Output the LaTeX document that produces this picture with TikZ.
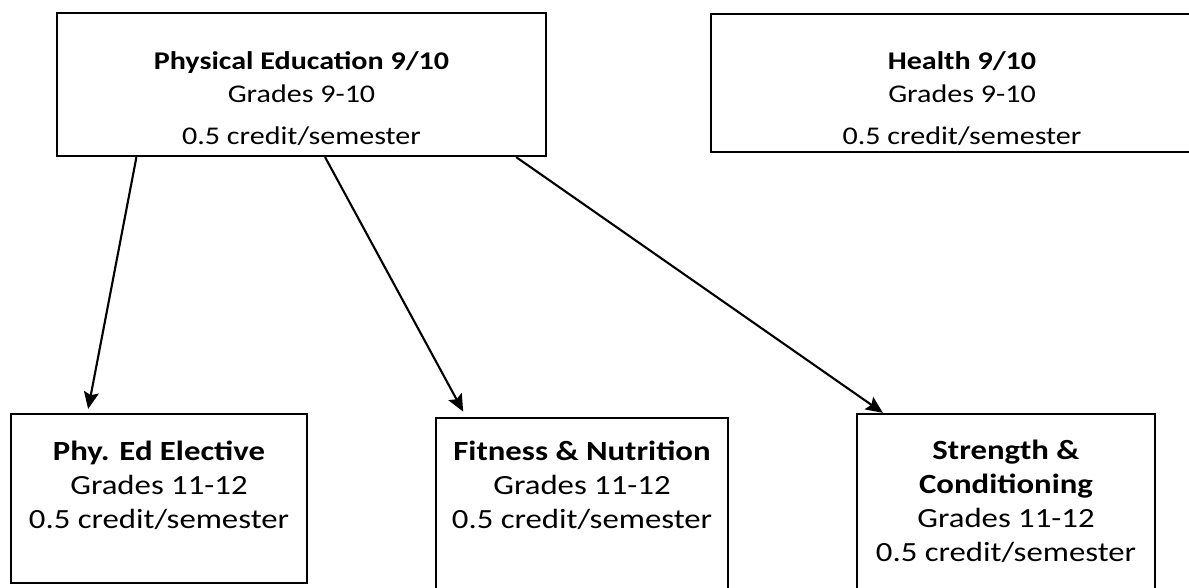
\documentclass[tikz,border=0pt]{standalone}
\usepackage{fontspec}
\setmainfont{Carlito}[FakeStretch=1.18]
\usepackage{tikz}
\usetikzlibrary{arrows.meta,positioning,calc}

\begin{document}
\begin{tikzpicture}[
    x=0.2mm, y=-0.2mm,
    course/.style={rectangle, draw=black, line width=1.3pt, inner sep=0pt},
    info/.style={anchor=north, align=center, inner sep=0pt, font=\fontsize{15.8}{19.3}\selectfont},
    topinfo/.style={info, font=\fontsize{14.5}{18.8}\selectfont},
    link/.style={-{Stealth[length=3.4mm, width=3mm, inset=0.6mm]}, line width=1.2pt},
]
    \useasboundingbox (0,0) rectangle (1189,588);

    % grade 9/10 courses
    \node[course, minimum width=97.8mm, minimum height=28.6mm] (pe) at (301.5,84.5) {};
    \node[topinfo] (peText) at (301.5,51) {\textbf{Physical Education 9/10}\\ Grades 9-10\\[5pt] 0.5 credit/semester};
    \node[course, minimum width=100.4mm, minimum height=27.6mm] (health) at (962,83) {};
    \node[topinfo] (healthText) at (962,51) {\textbf{Health 9/10}\\ Grades 9-10\\[5pt] 0.5 credit/semester};

    % grade 11/12 courses
    \node[course, minimum width=59.2mm, minimum height=33.8mm] (elective) at (159,498.5) {};
    \node[info] (electiveText) at (159,441) {\textbf{Phy. Ed Elective}\\ Grades 11-12\\ 0.5 credit/semester};
    \node[course, minimum width=58.4mm, minimum height=36.4mm] (fitness) at (582,509) {};
    \node[info] (fitnessText) at (582,441) {\textbf{Fitness \& Nutrition}\\ Grades 11-12\\ 0.5 credit/semester};
    \node[course, minimum width=59.6mm, minimum height=37.2mm] (strength) at (1006,507) {};
    \node[info] (strengthText) at (1006,440) {\textbf{Strength \&}\\ \textbf{Conditioning}\\ Grades 11-12\\ 0.5 credit/semester};

    \draw[link, shorten >=0.8mm] ($(pe.south west)!0.164!(pe.south east)$) -- ($(elective.north west)!0.26!(elective.north east)$);
    \draw[link, shorten >=1.2mm] ($(pe.south west)!0.548!(pe.south east)$) -- ($(fitness.north west)!0.106!(fitness.north east)$);
    \draw[link] ($(pe.south west)!0.937!(pe.south east)$) -- ($(strength.north west)!0.09!(strength.north east)$);
\end{tikzpicture}
\end{document}
